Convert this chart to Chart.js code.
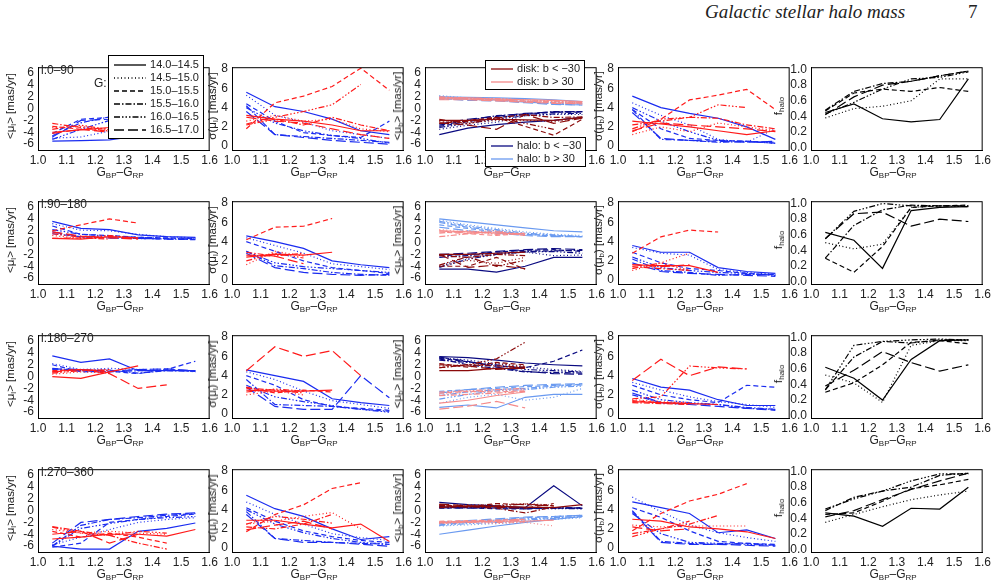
<!DOCTYPE html>
<html><head><meta charset="utf-8">
<script src="https://cdn.jsdelivr.net/npm/chart.js@4"></script>
<style>
body{margin:0;background:#fff;width:994px;height:583px;position:relative;overflow:hidden;font-family:"Liberation Sans",Arial,sans-serif;color:#222}
canvas{position:absolute}
.t{position:absolute;font-size:12px;white-space:nowrap}
.yt{position:absolute;font-size:11.5px;white-space:nowrap;transform:translate(-50%,-50%) rotate(-90deg)}
.lab{position:absolute;font-size:12px}
.leg{position:absolute;background:#fff;border:1px solid #000;font-size:11px;line-height:13px}
sub{font-size:8px;vertical-align:-2px}
</style></head><body>
<div class="t" style="left:705px;top:1px;font:italic 19px 'Liberation Serif',serif">Galactic stellar halo mass</div>
<div class="t" style="left:968px;top:1px;font:19px 'Liberation Serif',serif">7</div>
<script>
// colour bins (G_BP - G_RP) and magnitude bins
const xs = [1.05, 1.15, 1.25, 1.35, 1.45, 1.55];
const magBins = ['14.0–14.5', '14.5–15.0', '15.0–15.5', '15.5–16.0', '16.0–16.5', '16.5–17.0'];
const lonBins = ['l:0–90', 'l:90–180', 'l:180–270', 'l:270–360'];
const xTicks = [1.0, 1.1, 1.2, 1.3, 1.4, 1.5, 1.6];
const muTicks = [-6, -4, -2, 0, 2, 4, 6];
const sigTicks = [0, 2, 4, 6, 8];
const fTicks = [0, 0.2, 0.4, 0.6, 0.8, 1.0];
const n = null;

// ---- l: 0-90
const r1_mul_disk = [[-4,-3.6,-3.2,-2.9,-2.5,-2.9],[-3.2,-3,-3.5,-4,-4.4,-3],[-3,-3.5,-3.8,-4.5,-5,-3],[-2.5,-3.2,-3.8,-3.6,-4,-3.1],[-3.5,-2.8,-3.6,-3.2,-4,-3.4],[-4.2,-3.5,-4,-3.8,-4.5,-3.5]];
const r1_mul_halo = [[-5.5,-5.4,-5.3,-4.6,-3.8,-1.8],[-5,-4.8,-3.8,-3.2,-2.2,-1.3],[-4.2,-1.8,-1.5,-1.3,-0.9,-0.7],[-4.6,-2.4,-1.4,-1.2,-0.9,-0.6],[-5.2,-3.5,-2,-1.6,-1.2,-0.9],[-4.8,-2,-1.8,-1.3,-1,-0.8]];
const r1_sigl_disk = [[3.2,2.8,2.6,2.2,1.6,1.6],[2.6,3.2,2.6,2.8,1.8,1.5],[1.8,4.5,5.2,6.2,8.1,5.8],[2.2,2.8,2.2,3,2.2,1.6],[2.3,3.0,3.6,4.3,6.4,n],[3,2.6,2.4,1.8,1.2,0.8]];
const r1_sigl_halo = [[5.6,4.1,3.6,2.8,1.6,1.2],[5.3,3.2,2.5,1.6,1.2,0.8],[4.4,2.6,1.4,1.1,0.9,2.6],[4.2,1.2,1.0,0.8,0.6,0.4],[4.0,2.4,1.6,1.1,0.8,0.3],[3.6,1.2,0.9,0.6,0.4,0.2]];
const r1_mub_diskS = [[-2,-2,-1.8,-1.9,-2,-1.5],[-2.2,-2.4,-2,-2,-2.2,-1.5],[-2.5,-2,-1.5,-3,-4.5,-1.8],[-2,-2.2,-1.6,-1,-1.5,-1.4],[-1.8,-2.6,-1.5,-2.5,-3.5,n],[-2.4,-2.8,-3.5,-1,-2.5,-1.6]];
const r1_mub_diskN = [[1.8,1.8,1.6,1.5,1.4,1.2],[1.6,1.7,1.5,1.3,1.1,1.0],[1.9,1.6,1.4,1.2,1.0,0.9],[1.7,1.6,1.4,1.3,1.2,1.0],[2,1.8,1.7,1.5,1.3,1.1],[1.5,1.5,1.3,1.1,0.9,0.8]];
const r1_mub_haloS = [[-4.4,-3.3,-2.7,-2.3,-2,-1.5],[-3.5,-2.8,-2.3,-1.2,-1,-1],[-3,-2.2,-1.5,-1,-0.6,-0.6],[-2.8,-2,-1.2,-0.9,-0.5,-0.5],[-3.2,-2.5,-1.8,-1.2,-0.9,-0.8],[-2.6,-1.8,-1.3,-0.8,-0.6,-0.5]];
const r1_mub_haloN = [[2,1.9,1.8,1.7,1.5,1.2],[2.2,1.8,1.7,1.5,1.2,0.9],[1.6,1.6,1.4,1.2,0.8,0.6],[2.0,1.7,1.5,1.1,0.9,0.8],[1.8,1.6,1.4,1.2,1.0,0.9],[1.7,1.4,1.3,1.0,0.7,0.6]];
const r1_sigb_disk = [[2.6,2.3,2.0,1.6,1.2,1.6],[1.2,2.0,1.5,2.4,2.0,1.6],[1.5,2.8,4.8,5.3,5.9,3.8],[2.2,2.6,3.0,2.9,2.2,1.8],[1.8,2.8,3.0,4.3,4.0,n],[1.6,2.4,2.2,2.0,1.8,1.5]];
const r1_sigb_halo = [[5.2,4,3.4,2.9,2,0.7],[4.5,3.2,2.2,0.7,0.4,1.8],[3.8,1.8,0.8,0.6,0.5,0.4],[3.8,0.7,0.6,0.4,0.5,0.3],[4.0,2.6,1.5,0.6,0.5,0.3],[3.5,0.8,0.6,0.5,0.4,0.5]];
const r1_fhalo = [[0.45,0.56,0.37,0.33,0.36,0.88],[0.38,0.5,0.53,0.6,0.88,0.88],[0.47,0.7,0.75,0.72,0.77,0.72],[0.48,0.72,0.82,0.85,0.92,0.98],[0.43,0.58,0.75,0.88,0.9,0.97],[0.42,0.65,0.8,0.85,0.92,0.98]];

// ---- l: 90-180
const r2_mul_disk = [[0.7,0.6,1.0,0.8,n,n],[1.2,0.7,1.0,0.8,n,n],[2.0,3.0,4.0,3.3,n,n],[0.7,0.8,0.6,n,n,n],[1.5,0.9,1.2,0.7,n,n],[1.8,1.1,0.8,0.6,n,n]];
const r2_mul_halo = [[3.6,2.4,2.2,1.3,1.0,0.9],[3.2,2.1,2,1.4,1,0.8],[2.8,1.4,1.2,0.9,0.8,0.7],[1.5,1.0,0.8,0.7,0.6,0.5],[2.2,1.4,1.1,0.9,0.7,0.6],[1.8,1.0,0.8,0.7,0.6,0.6]];
const r2_sigl_disk = [[2.4,2.7,2.6,2.9,n,n],[1.6,3.0,2.5,n,n,n],[4.2,5.5,5.6,6.4,n,n],[2.9,2.5,2.8,n,n,n],[2.0,2.8,2.3,n,n,n],[2.6,2.5,1.7,n,n,n]];
const r2_sigl_halo = [[4.6,4.0,3.3,2.0,1.6,1.3],[4.4,3.6,2.8,1.7,1.4,1.1],[4.0,3.0,2.0,1.3,1.0,0.7],[3.0,1.5,1.2,0.8,0.6,0.5],[3.0,1.8,1.4,1.2,1.0,0.8],[2.8,1.3,0.8,0.6,0.5,0.6]];
const r2_mub_diskS = [[-2,-2,-1.8,-1.6,n,n],[-4,-3,-3.5,-2.5,n,n],[-4,-4,-2.5,-4.5,n,n],[-2.2,-2.5,-2,-2.2,n,n],[-3.8,-2.4,-4,-3,n,n],[-2,-4.2,-3.8,-4.4,n,n]];
const r2_mub_diskN = [[2,1.8,1.6,1.5,n,n],[2.2,1.8,2.0,1.4,n,n],[1.8,1.5,1.2,1.6,n,n],[1.0,1.5,1.8,1.2,n,n],[1.6,2.0,1.4,1.5,n,n],[2.0,1.6,1.8,1.3,n,n]];
const r2_mub_haloS = [[-4.5,-4.5,-5,-4,-2.5,-2.5],[-4,-2.5,-2,-1.6,-2.2,-2.1],[-2.2,-2.0,-1.6,-1.3,-1.2,-1.5],[-2.5,-2.2,-1.8,-1.5,-1.4,-1.3],[-4.2,-2.8,-2,-1.6,-1.5,-1.8],[-2,-1.8,-1.5,-1.2,-1,-1.2]];
const r2_mub_haloN = [[4,3.5,3,2.5,2,1.8],[3.8,3.0,2.4,1.8,1.4,1.2],[3.0,2.4,1.8,1.4,1.2,1.0],[3.4,2.6,2.0,1.4,1.1,1.0],[3.6,2.8,2.2,1.6,1.3,1.0],[2.6,2.0,1.6,1.2,1.0,1.0]];
const r2_sigb_disk = [[1.6,1.5,1.5,0.8,n,n],[1.0,1.8,2.8,n,n,n],[2.8,4.5,5.2,5.0,n,n],[1.4,1.2,1.0,n,n,n],[1.2,1.8,1.0,n,n,n],[1.6,1.4,1.6,n,n,n]];
const r2_sigb_halo = [[3.6,2.9,2.9,1.3,0.9,0.7],[3.4,2.8,2.6,1.1,0.8,0.6],[2.9,1.8,1.2,1.0,0.7,0.5],[2.2,1.0,0.8,0.5,0.6,0.6],[2.4,1.3,1,0.8,0.7,0.5],[1.8,0.9,0.7,0.6,0.5,0.4]];
const r2_fhalo = [[0.63,0.53,0.17,0.91,0.95,0.96],[0.5,0.42,0.48,0.95,0.97,0.97],[0.3,0.12,0.45,0.95,0.97,0.98],[0.3,0.72,0.92,0.98,0.97,0.97],[0.55,0.9,1.0,0.97,0.97,0.96],[0.55,0.87,0.89,0.71,0.8,0.77]];

// ---- l: 180-270
const r3_mul_disk = [[0,-0.3,0.8,1.8,n,n],[0.4,0.8,0.6,n,n,n],[1,1.2,0.8,n,n,n],[0.8,1.2,1,n,n,n],[0.6,1.0,1.2,n,n,n],[0.8,1.2,0.5,-2,-1.4,n]];
const r3_mul_halo = [[3.5,2.4,3,1,1,1],[2.2,1.2,1.4,1.2,1.3,0.8],[2,0.8,0.9,0.5,1.2,2.6],[1.4,1,1.1,0.6,1,0.9],[1.2,1.0,0.8,1.0,1.1,1],[1.3,1.2,0.9,1.2,1.3,1]];
const r3_sigl_disk = [[2.5,2.4,2.4,2.5,n,n],[2.0,2.4,2.0,n,n,n],[2.8,2.2,2.5,2.3,n,n],[2.7,2.5,2.2,n,n,n],[2.3,2.6,2.4,n,n,n],[4.5,7,6,6.6,4,n]];
const r3_sigl_halo = [[4.6,4,3.4,1.6,1.2,0.9],[4.4,3.6,2.4,1.4,1,0.6],[4.0,3.0,1.5,0.8,0.6,0.4],[3.6,1.0,0.9,0.8,0.5,0.3],[3.0,1.8,1.3,0.9,0.5,0.2],[2.8,0.8,0.5,0.5,4.0,1.7]];
const r3_mub_diskS = [[1,1,1.4,1.4,n,n],[1.8,2,2.2,1.8,n,n],[2.2,1.6,2.4,2,n,n],[1.5,2,1.8,1.6,n,n],[1.5,2,3,5.8,n,n],[2,1.8,1.2,1.6,n,n]];
const r3_mub_diskN = [[-4.5,-4,-3.2,-2.6,n,n],[-3,-2.6,-2.4,-2.2,n,n],[-2.8,-2.5,-2.6,-2.4,n,n],[-3.2,-3,-2.8,-2.5,n,n],[-2.6,-2.4,-2.2,-2.0,n,n],[-5.5,-5,-4.2,-5.3,n,n]];
const r3_mub_haloS = [[3.4,3.2,2.8,2.3,2,1.8],[3.2,2.8,2.2,1.6,1.2,0.9],[3.1,2.5,1.8,1.5,2.6,4.5],[3.0,2.0,1.4,0.8,0.7,0.6],[2.8,2.4,2.0,1.2,1.0,0.8],[3.3,2.6,1.6,0.9,0.5,0.4]];
const r3_mub_haloN = [[-5.2,-4.8,-5.3,-3.5,-3,-3],[-4.5,-3.5,-3,-4,-3.5,-2],[-2.5,-2.2,-2,-1.7,-1.5,-1.3],[-3.2,-2.6,-2.2,-2,-1.6,-1.4],[-3.8,-3,-2.4,-2.2,-1.8,-1.6],[-2.8,-2.2,-1.8,-1.5,-1.3,-1.2]];
const r3_sigb_disk = [[1.3,1.2,1.1,1.0,n,n],[1.5,1.3,1.2,n,n,n],[1.4,1.2,1.1,n,n,n],[1.2,1.1,1.0,n,n,n],[1.6,1.8,5.0,4.8,4.7,n],[3.5,5.7,4.0,4.9,4.7,n]];
const r3_sigb_halo = [[3.7,2.8,2.5,1.5,0.9,0.9],[3.3,2.5,1.8,1.3,1.0,0.7],[3.0,2.0,1.5,1.2,3.0,2.8],[2.0,1.2,1.1,1.0,0.7,0.5],[2.5,1.5,1.2,1.0,0.6,0.5],[2.2,1.2,1.0,0.8,0.6,0.4]];
const r3_fhalo = [[0.62,0.48,0.2,0.72,0.96,0.97],[0.52,0.42,0.17,0.9,0.96,0.96],[0.3,0.42,0.65,0.94,0.96,0.92],[0.33,0.75,0.95,0.93,0.97,0.97],[0.33,0.9,0.95,0.97,0.98,0.97],[0.38,0.58,0.82,0.68,0.57,0.65]];

// ---- l: 270-360
const r4_mul_disk = [[-4.8,-4.5,-4,-4,-4.3,-3.2],[-3.2,-3.8,-3.5,-3.8,-4,n],[-3.5,-4.5,-3.8,-4.5,-5.5,n],[-2.7,-3.5,-4.2,-5.5,-6.5,n],[-2.8,-3.8,-4.2,-3.5,-3.8,n],[-4,-3.5,-5.5,-4,n,n]];
const r4_mul_halo = [[-6,-6.5,-6.5,-3.5,-3,-2.1],[-5.8,-4.5,-3.2,-2,-1.5,-1.2],[-6.2,-5.5,-2,-1.5,-1,-0.6],[-6,-2.5,-1.5,-1.2,-0.8,-0.5],[-6,-3,-2.2,-1.5,-1.2,-1],[-5.5,-2,-1.5,-1,-0.6,-0.4]];
const r4_sigl_disk = [[2.9,2.9,2.5,2.1,2.5,0.7],[2.5,2.8,3.3,3.7,2.0,n],[1.7,3.5,4.5,6.2,6.8,n],[2.2,2.0,2.5,3.5,n,n],[2.5,3.3,3.0,2.6,n,n],[1.9,2.4,2.8,2.0,n,n]];
const r4_sigl_halo = [[5.5,4.1,3.3,2.0,0.9,1.2],[4.8,3.5,2.5,1.5,1.1,0.8],[4.2,2.8,1.8,1.2,0.8,0.6],[3.8,1.0,0.8,0.6,0.5,0.4],[4.0,2.5,1.6,1.0,0.6,0.4],[3.5,1.0,0.6,0.6,0.4,0.2]];
const r4_mub_diskS = [[0.6,0.8,0.7,0.6,0.5,1.0],[0.8,1.0,0.9,1.2,0.9,n],[1.0,0.6,1.2,1.0,0.8,n],[0.5,0.7,0.4,-0.4,0.6,n],[0.9,0.6,0.8,1.1,0.8,n],[1.1,0.8,0.6,0.4,1.2,n]];
const r4_mub_diskN = [[-2,-1.9,-1.8,-1.8,-1.6,n],[-2.2,-2,-2.2,-2,-2.6,n],[-1.8,-1.7,-1.6,-1.5,n,n],[-2,-1.8,-2,-1.9,n,n],[-1.9,-1.8,-1.7,-1.4,n,n],[-2.1,-2,-1.8,-1.6,n,n]];
const r4_mub_haloS = [[1.4,1,0.8,0.5,4.2,0.8],[0.6,0.5,0.6,0.4,0.3,0.4],[0.4,0.5,0.3,0.3,0.4,0.5],[0.5,0.6,0.5,0.4,0.5,0.4],[0.7,0.5,0.4,0.5,0.4,0.3],[0.5,0.4,0.6,0.3,0.5,0.4]];
const r4_mub_haloN = [[-4,-3.3,-2.6,-2,-1.5,-1],[-2.6,-2.4,-2.2,-1.8,-1.5,-1.2],[-2.2,-1.8,-1.6,-1.2,-1.0,-0.8],[-2.4,-2.0,-1.6,-1.4,-1.2,-1.0],[-2.5,-2.2,-2.0,-1.6,-1.3,-1.1],[-2.0,-1.7,-1.4,-1.1,-1.0,-0.8]];
const r4_sigb_disk = [[3,2.8,2.2,2.0,1.7,1.0],[2.4,2.2,2.3,2.3,2.3,n],[1.8,3.6,4.9,5.6,6.7,n],[1.5,2.0,2.5,3.4,n,n],[1.2,2.0,2.8,n,n,n],[2.2,1.8,2.0,n,n,n]];
const r4_sigb_halo = [[4.8,4.2,3.6,1.6,1.9,1.0],[5.3,3.8,2.4,1.6,1.1,0.7],[4.2,3.2,1.8,0.7,0.5,0.4],[3.9,0.7,0.5,0.4,0.5,0.3],[3.6,1.5,0.6,0.5,0.4,0.3],[3.8,0.6,0.4,0.4,0.3,0.2]];
const r4_fhalo = [[0.47,0.43,0.3,0.53,0.52,0.8],[0.35,0.45,0.55,0.64,0.7,0.75],[0.45,0.47,0.62,0.78,0.83,0.9],[0.5,0.67,0.75,0.8,0.95,0.98],[0.52,0.65,0.75,0.88,0.97,0.97],[0.42,0.5,0.64,0.77,0.88,0.98]];

const dashes = [[], [1, 2.5], [5, 3], [6, 2, 1.5, 2], [6, 2, 1.5, 2, 1.5, 2, 1.5, 2], [10, 4]];
const RED = '#ff1a1a', BLUE = '#1a2cf0', DRED = '#8b0a0a', LRED = '#f58a8a', DBLUE = '#0a0a80', LBLUE = '#6a9af0';

const colLeft = [38, 232, 425, 618, 811];
const rowTop = [62, 196, 330, 464];
const boxW = 173, boxH = 88;
const padL = 26, padB = 16;

const frame = {
  id: 'frame',
  afterDraw(chart) {
    const a = chart.chartArea, c = chart.ctx;
    c.save(); c.strokeStyle = '#000'; c.lineWidth = 1;
    c.strokeRect(a.left + 0.5, a.top + 0.5, a.right - a.left - 1, a.bottom - a.top);
    c.restore();
  }
};

function series(rows, color) {
  return rows.map((r, i) => ({
    data: r.map((v, j) => ({ x: xs[j], y: v })),
    borderColor: color, borderDash: dashes[i], borderWidth: 1.2,
    pointRadius: 0, fill: false, tension: 0, spanGaps: false
  }));
}

function fixTicks(list) {
  return s => { s.ticks = list.map(v => ({ value: v })); };
}

const tickFont = { family: 'Liberation Sans', size: 12 };

function panel(r, c, groups, yMin, yMax, yTicks, yTitle, titleOff) {
  const cv = document.createElement('canvas');
  const w = padL + boxW + 10, h = 6 + boxH + padB;
  cv.width = w; cv.height = h;
  cv.style.left = (colLeft[c] - padL) + 'px';
  cv.style.top = (rowTop[r] - 6) + 'px';
  cv.style.width = w + 'px'; cv.style.height = h + 'px';
  document.body.appendChild(cv);
  let ds = [];
  groups.forEach(g => { ds = ds.concat(series(g[0], g[1])); });
  const frac = yTicks[1] - yTicks[0] < 1;
  new Chart(cv, {
    type: 'line',
    data: { datasets: ds },
    options: {
      responsive: false, animation: false, devicePixelRatio: 1,
      layout: { autoPadding: false, padding: { top: 6, right: 10 } },
      plugins: { legend: { display: false }, tooltip: { enabled: false } },
      scales: {
        x: {
          type: 'linear', min: 1.0, max: 1.6,
          afterBuildTicks: fixTicks(xTicks),
          afterFit: s => { s.height = padB; },
          grid: { display: false, drawTicks: false, tickLength: 0 }, border: { color: '#000' },
          ticks: { autoSkip: false, color: '#222', padding: 3, maxRotation: 0, font: tickFont, callback: v => Number(v).toFixed(1) }
        },
        y: {
          min: yMin, max: yMax,
          afterBuildTicks: fixTicks(yTicks),
          afterFit: s => { s.width = padL; },
          grid: { display: false, drawTicks: false, tickLength: 0 }, border: { color: '#000' },
          ticks: { autoSkip: false, color: '#222', padding: 4, font: tickFont,
            callback: v => (frac ? Number(v).toFixed(1) : String(v)) }
        }
      }
    },
    plugins: [frame]
  });
  // axis titles
  const xt = document.createElement('div');
  xt.className = 't';
  xt.innerHTML = 'G<sub>BP</sub>–G<sub>RP</sub>';
  xt.style.left = (colLeft[c] + boxW / 2 - 28) + 'px';
  xt.style.top = (rowTop[r] + boxH + 15) + 'px';
  document.body.appendChild(xt);
  const yt = document.createElement('div');
  yt.className = 'yt';
  yt.innerHTML = yTitle;
  yt.style.left = (colLeft[c] - titleOff) + 'px';
  yt.style.top = (rowTop[r] + boxH / 2) + 'px';
  document.body.appendChild(yt);
}

const rowsData = [
  [r1_mul_disk, r1_mul_halo, r1_sigl_disk, r1_sigl_halo, r1_mub_diskS, r1_mub_diskN, r1_mub_haloS, r1_mub_haloN, r1_sigb_disk, r1_sigb_halo, r1_fhalo],
  [r2_mul_disk, r2_mul_halo, r2_sigl_disk, r2_sigl_halo, r2_mub_diskS, r2_mub_diskN, r2_mub_haloS, r2_mub_haloN, r2_sigb_disk, r2_sigb_halo, r2_fhalo],
  [r3_mul_disk, r3_mul_halo, r3_sigl_disk, r3_sigl_halo, r3_mub_diskS, r3_mub_diskN, r3_mub_haloS, r3_mub_haloN, r3_sigb_disk, r3_sigb_halo, r3_fhalo],
  [r4_mul_disk, r4_mul_halo, r4_sigl_disk, r4_sigl_halo, r4_mub_diskS, r4_mub_diskN, r4_mub_haloS, r4_mub_haloN, r4_sigb_disk, r4_sigb_halo, r4_fhalo]
];

rowsData.forEach((d, r) => {
  panel(r, 0, [[d[0], RED], [d[1], BLUE]], -7, 7, muTicks, '&lt;μ<sub>l</sub>&gt; [mas/yr]', 27);
  panel(r, 1, [[d[2], RED], [d[3], BLUE]], -0.4, 8.2, sigTicks, 'σ(μ<sub>l</sub>) [mas/yr]', 19);
  panel(r, 2, [[d[4], DRED], [d[5], LRED], [d[6], DBLUE], [d[7], LBLUE]], -7, 7, muTicks, '&lt;μ<sub>b</sub>&gt; [mas/yr]', 27);
  panel(r, 3, [[d[8], RED], [d[9], BLUE]], -0.4, 8.2, sigTicks, 'σ(μ<sub>b</sub>) [mas/yr]', 19);
  panel(r, 4, [[d[10], '#000']], -0.03, 1.03, fTicks, 'f<sub>halo</sub>', 32);
  const lb = document.createElement('div');
  lb.className = 'lab';
  lb.textContent = lonBins[r];
  lb.style.left = (colLeft[0] + 3) + 'px';
  lb.style.top = (rowTop[r] + 1) + 'px';
  document.body.appendChild(lb);
});

// magnitude legend (panel 1,1)
function lineSvg(color, dash, w) {
  return '<svg width="' + w + '" height="8" style="vertical-align:middle"><line x1="1" y1="4" x2="' + (w - 1) + '" y2="4" stroke="' + color +
    '" stroke-width="1.3" stroke-dasharray="' + (dash.length ? dash.join(',') : 'none') + '"/></svg>';
}
const g = document.createElement('div');
g.className = 't'; g.textContent = 'G:';
g.style.left = '94px'; g.style.top = '76px';
document.body.appendChild(g);
const leg = document.createElement('div');
leg.className = 'leg';
leg.style.left = '108px'; leg.style.top = '55px'; leg.style.padding = '2px 4px';
leg.innerHTML = magBins.map((m, i) => lineSvg('#000', dashes[i], 34) + ' ' + m).join('<br>');
document.body.appendChild(leg);

// b-sign legends (panel 1,3)
const legA = document.createElement('div');
legA.className = 'leg';
legA.style.left = '485px'; legA.style.top = '60px'; legA.style.padding = '1px 4px';
legA.innerHTML = lineSvg(DRED, [], 24) + ' disk: b &lt; −30<br>' + lineSvg(LRED, [], 24) + ' disk: b &gt; 30';
document.body.appendChild(legA);
const legB = document.createElement('div');
legB.className = 'leg';
legB.style.left = '485px'; legB.style.top = '137px'; legB.style.padding = '1px 4px';
legB.innerHTML = lineSvg(DBLUE, [], 24) + ' halo: b &lt; −30<br>' + lineSvg(LBLUE, [], 24) + ' halo: b &gt; 30';
document.body.appendChild(legB);
</script>
</body></html>
